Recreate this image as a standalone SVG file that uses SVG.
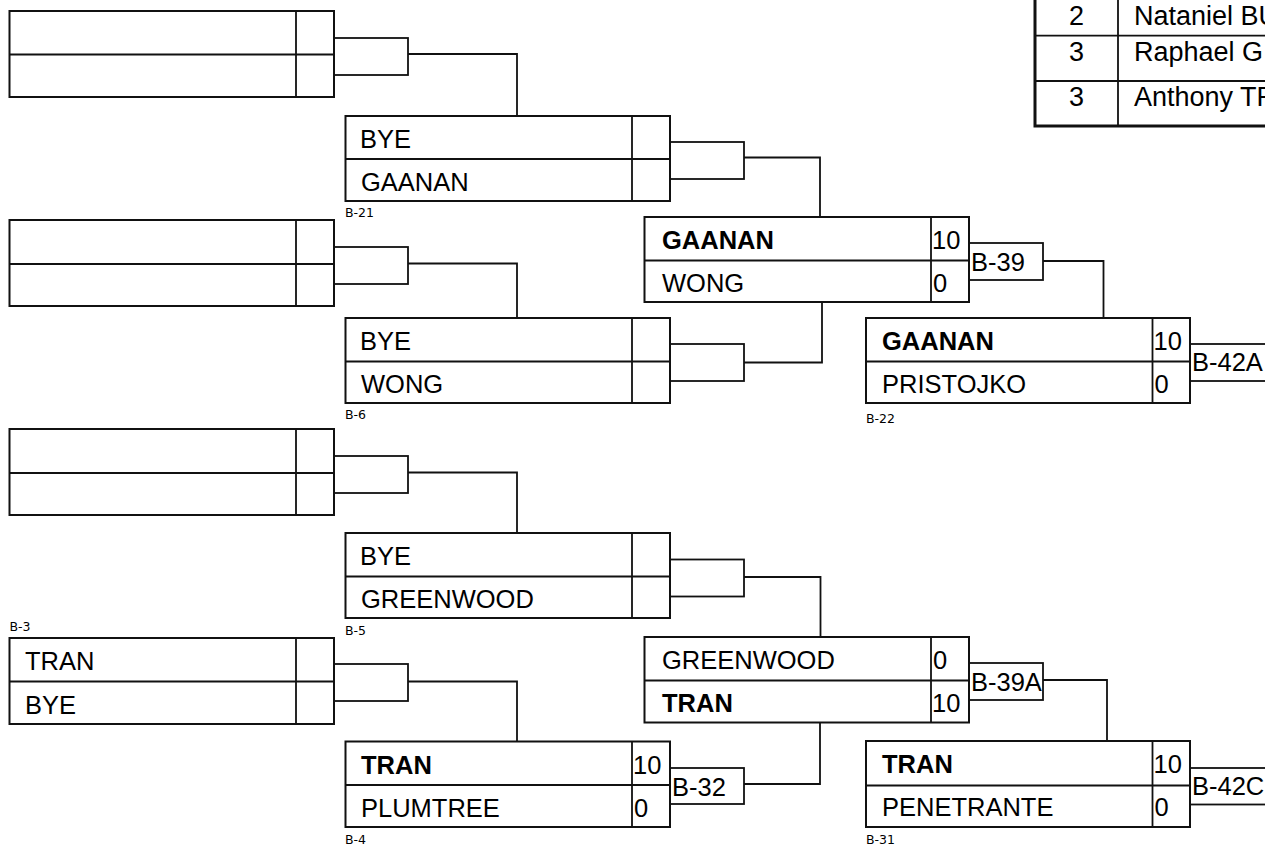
<svg xmlns="http://www.w3.org/2000/svg" width="1265" height="845" viewBox="0 0 1265 845">
<style>
.bx{fill:#fff;stroke:#111;stroke-width:2}
.ln{fill:none;stroke:#111;stroke-width:1.8}
.cb{fill:#fff;stroke:#111;stroke-width:1.8}
.n{font-family:"Liberation Sans",Arial,sans-serif;font-size:25.5px;fill:#000}
.b{font-weight:bold}
.s{font-family:"DejaVu Sans",sans-serif;font-size:12.5px;fill:#000}
.t{font-family:"Liberation Sans",Arial,sans-serif;font-size:27px;fill:#000}
</style>
<rect width="1265" height="845" fill="#fff"/>
<g id="legend">
<rect x="1035" y="-10" width="260" height="136" fill="#fff" stroke="#111" stroke-width="3"/>
<path class="ln" d="M1035,35.7H1265M1035,81H1265M1118,0V126" stroke-width="2"/>
<text class="t" x="1076.5" y="25" text-anchor="middle">2</text>
<text class="t" x="1134" y="25">Nataniel BU</text>
<text class="t" x="1076.5" y="61" text-anchor="middle">3</text>
<text class="t" x="1134" y="61">Raphael G</text>
<text class="t" x="1076.5" y="106" text-anchor="middle">3</text>
<text class="t" x="1134" y="106">Anthony TR</text>
</g>
<g id="connectors">
<path class="ln" d="M408,54H517V116"/>
<path class="ln" d="M408,263.5H517V318"/>
<path class="ln" d="M408,472.5H517V533"/>
<path class="ln" d="M408,681.5H517V741.5"/>
<path class="ln" d="M744,157.5H820V217"/>
<path class="ln" d="M744,362.5H822V302.5"/>
<path class="ln" d="M744,577H820.5V637"/>
<path class="ln" d="M744,784H820V722.5"/>
<path class="ln" d="M1043,261H1103.5V318"/>
<path class="ln" d="M1043,680H1107V741"/>
</g>
<g id="m-r1a">
<rect class="cb" x="334" y="38" width="74" height="37"/>
<rect class="bx" x="9.5" y="11" width="324.5" height="86"/>
<path class="ln" d="M9.5,54.5H334M296,11V97" stroke-width="2"/>
</g>
<g id="m-r1b">
<rect class="cb" x="334" y="247" width="74" height="37"/>
<rect class="bx" x="9.5" y="220" width="324.5" height="86"/>
<path class="ln" d="M9.5,264H334M296,220V306" stroke-width="2"/>
</g>
<g id="m-r1c">
<rect class="cb" x="334" y="456" width="74" height="37"/>
<rect class="bx" x="9.5" y="429" width="324.5" height="86"/>
<path class="ln" d="M9.5,473H334M296,429V515" stroke-width="2"/>
</g>
<g id="m-b3">
<text class="s" x="9.5" y="631">B-3</text>
<rect class="cb" x="334" y="664" width="74" height="37"/>
<rect class="bx" x="9.5" y="638" width="324.5" height="86"/>
<path class="ln" d="M9.5,681.5H334M296,638V724" stroke-width="2"/>
<text class="n" x="25" y="670">TRAN</text>
<text class="n" x="25" y="714">BYE</text>
</g>
<g id="m-b21">
<rect class="cb" x="670" y="142" width="74" height="37"/>
<rect class="bx" x="345.5" y="116" width="324.5" height="85"/>
<path class="ln" d="M345.5,159H670M632,116V201" stroke-width="2"/>
<text class="n" x="360" y="148">BYE</text>
<text class="n" x="361" y="191">GAANAN</text>
<text class="s" x="345" y="217">B-21</text>
</g>
<g id="m-b6">
<rect class="cb" x="670" y="344" width="74" height="37"/>
<rect class="bx" x="345.5" y="318" width="324.5" height="85"/>
<path class="ln" d="M345.5,361.5H670M632,318V403" stroke-width="2"/>
<text class="n" x="360" y="350">BYE</text>
<text class="n" x="361" y="393">WONG</text>
<text class="s" x="345" y="419">B-6</text>
</g>
<g id="m-b5">
<rect class="cb" x="670" y="559.5" width="74" height="37"/>
<rect class="bx" x="345.5" y="533" width="324.5" height="85"/>
<path class="ln" d="M345.5,576.5H670M632,533V618" stroke-width="2"/>
<text class="n" x="360" y="565">BYE</text>
<text class="n" x="361" y="608">GREENWOOD</text>
<text class="s" x="345" y="635">B-5</text>
</g>
<g id="m-b4">
<rect class="cb" x="670" y="768" width="74" height="36"/>
<rect class="bx" x="345.5" y="741.5" width="324.5" height="85.5"/>
<path class="ln" d="M345.5,785H670M632,741.5V827" stroke-width="2"/>
<text class="n b" x="361" y="774">TRAN</text>
<text class="n" x="361" y="817">PLUMTREE</text>
<text class="n" x="633" y="774">10</text>
<text class="n" x="634" y="817">0</text>
<text class="n" x="672" y="796">B-32</text>
<text class="s" x="345" y="844">B-4</text>
</g>
<g id="m-b39">
<rect class="cb" x="969" y="243" width="74" height="37"/>
<rect class="bx" x="644.5" y="217" width="324.5" height="85"/>
<path class="ln" d="M644.5,260.5H969M931,217V302" stroke-width="2"/>
<text class="n b" x="662" y="249">GAANAN</text>
<text class="n" x="662" y="292">WONG</text>
<text class="n" x="932" y="249">10</text>
<text class="n" x="933" y="292">0</text>
<text class="n" x="971" y="271">B-39</text>
</g>
<g id="m-b39a">
<rect class="cb" x="969" y="663" width="74" height="37"/>
<rect class="bx" x="644.5" y="637" width="324.5" height="85.5"/>
<path class="ln" d="M644.5,680.5H969M931,637V722.5" stroke-width="2"/>
<text class="n" x="662" y="669">GREENWOOD</text>
<text class="n b" x="662" y="712">TRAN</text>
<text class="n" x="933" y="669">0</text>
<text class="n" x="932" y="712">10</text>
<text class="n" x="971" y="691">B-39A</text>
</g>
<g id="m-b22">
<rect class="cb" x="1190" y="344" width="76" height="37"/>
<rect class="bx" x="866" y="318" width="324" height="85"/>
<path class="ln" d="M866,361.5H1190M1152.5,318V403" stroke-width="2"/>
<text class="n b" x="882" y="350">GAANAN</text>
<text class="n" x="882" y="393">PRISTOJKO</text>
<text class="n" x="1153.5" y="350">10</text>
<text class="n" x="1154.5" y="393">0</text>
<text class="n" x="1192" y="371">B-42A</text>
<text class="s" x="866" y="423">B-22</text>
</g>
<g id="m-b31">
<rect class="cb" x="1190" y="768" width="76" height="36.5"/>
<rect class="bx" x="866" y="741" width="324" height="86"/>
<path class="ln" d="M866,785.5H1190M1152.5,741V827" stroke-width="2"/>
<text class="n b" x="882" y="773">TRAN</text>
<text class="n" x="882" y="816">PENETRANTE</text>
<text class="n" x="1153.5" y="773">10</text>
<text class="n" x="1154.5" y="816">0</text>
<text class="n" x="1192" y="795">B-42C</text>
<text class="s" x="866" y="844">B-31</text>
</g>
</svg>
